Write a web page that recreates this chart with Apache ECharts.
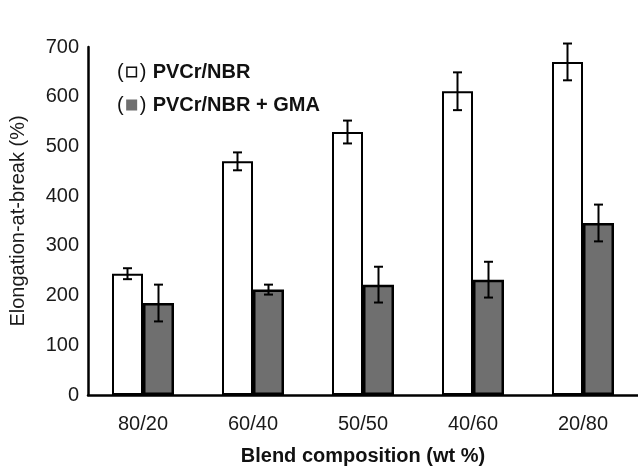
<!DOCTYPE html>
<html>
<head>
<meta charset="utf-8">
<script src="https://cdn.jsdelivr.net/npm/echarts@6/dist/echarts.min.js"></script>
<style>
html,body{margin:0;padding:0;background:#fff;}
#chart{width:638px;height:471px;}
</style>
</head>
<body>
<div id="chart"></div>
<script>
var categories = ['80/20', '60/40', '50/50', '40/60', '20/80'];
var seriesNames = ['PVCr/NBR', 'PVCr/NBR + GMA'];
var plainValues = [244, 470, 529, 611, 670];
var plainErrors = [11, 18, 23, 38, 37];
var gmaValues = [185, 212, 222, 232, 346];
var gmaErrors = [37, 10, 36, 36, 37];
var yTicks = [0, 100, 200, 300, 400, 500, 600, 700];

var FONT = '"Liberation Sans", Arial, sans-serif';
var BAR_W = 31;

function errorSeries(values, errors, offset) {
  var data = values.map(function (v, i) { return [i, v - errors[i], v + errors[i]]; });
  return {
    type: 'custom',
    silent: true,
    z: 10,
    data: data,
    encode: { x: 0, y: [1, 2] },
    renderItem: function (params, api) {
      var lo = api.coord([api.value(0), api.value(1)]);
      var hi = api.coord([api.value(0), api.value(2)]);
      var x = lo[0] + offset;
      var hw = 4.5;
      var st = { stroke: '#000', lineWidth: 2 };
      return {
        type: 'group',
        children: [
          { type: 'line', shape: { x1: x, y1: lo[1], x2: x, y2: hi[1] }, style: st },
          { type: 'line', shape: { x1: x - hw, y1: lo[1], x2: x + hw, y2: lo[1] }, style: st },
          { type: 'line', shape: { x1: x - hw, y1: hi[1], x2: x + hw, y2: hi[1] }, style: st }
        ]
      };
    }
  };
}

var chart = echarts.init(document.getElementById('chart'), null, { renderer: 'canvas' });
chart.setOption({
  backgroundColor: '#fff',
  animation: false,
  textStyle: { fontFamily: FONT },
  grid: { left: 88, right: -1, top: 47, bottom: 68, containLabel: false },
  legend: {
    orient: 'vertical',
    left: 106,
    top: 57,
    itemWidth: 0,
    itemHeight: 0,
    itemGap: 13,
    selectedMode: false,
    data: seriesNames,
    formatter: function (name) {
      var box = name === seriesNames[0] ? 'w' : 'g';
      return '{p|(}{' + box + '|}{q|)} {t|' + name + '}';
    },
    textStyle: {
      fontFamily: FONT,
      rich: {
        p: { fontSize: 20, color: '#111', fontFamily: FONT, padding: [0, 4, 0, 0] },
        q: { fontSize: 20, color: '#111', fontFamily: FONT, padding: [0, 0, 0, 4] },
        w: { width: 8, height: 8, backgroundColor: '#fff', borderColor: '#111', borderWidth: 1.5 },
        g: { width: 8, height: 8, backgroundColor: '#6f6f6f', borderColor: '#6f6f6f', borderWidth: 1.5 },
        t: { fontSize: 20, fontWeight: 'bold', color: '#111', fontFamily: FONT, padding: [0, 0, 0, 3] }
      }
    }
  },
  xAxis: {
    type: 'category',
    data: categories,
    name: 'Blend composition (wt %)',
    nameLocation: 'middle',
    nameGap: 51,
    nameTextStyle: { fontSize: 20, fontWeight: 'bold', color: '#111', fontFamily: FONT },
    axisLine: { lineStyle: { color: '#000', width: 2.5 } },
    axisTick: { show: false },
    axisLabel: { fontSize: 20, color: '#1a1a1a', margin: 19, fontFamily: FONT }
  },
  yAxis: {
    type: 'value',
    min: yTicks[0],
    max: yTicks[yTicks.length - 1],
    interval: 100,
    name: 'Elongation-at-break (%)',
    nameLocation: 'middle',
    nameGap: 60,
    nameRotate: 90,
    nameTextStyle: { fontSize: 20, color: '#1a1a1a', fontFamily: FONT },
    axisLine: { show: true, lineStyle: { color: '#000', width: 2.5 } },
    axisTick: { show: false },
    splitLine: { show: false },
    axisLabel: { fontSize: 20, color: '#1a1a1a', margin: 9, fontFamily: FONT }
  },
  series: [
    {
      name: seriesNames[0],
      type: 'bar',
      data: plainValues,
      barWidth: BAR_W,
      barGap: '0%',
      itemStyle: { color: '#fff', borderColor: '#000', borderWidth: 2 }
    },
    {
      name: seriesNames[1],
      type: 'bar',
      data: gmaValues,
      barWidth: BAR_W,
      barGap: '0%',
      itemStyle: { color: '#6f6f6f', borderColor: '#000', borderWidth: 2.5 }
    },
    errorSeries(plainValues, plainErrors, -BAR_W / 2),
    errorSeries(gmaValues, gmaErrors, BAR_W / 2)
  ]
});
</script>
</body>
</html>
